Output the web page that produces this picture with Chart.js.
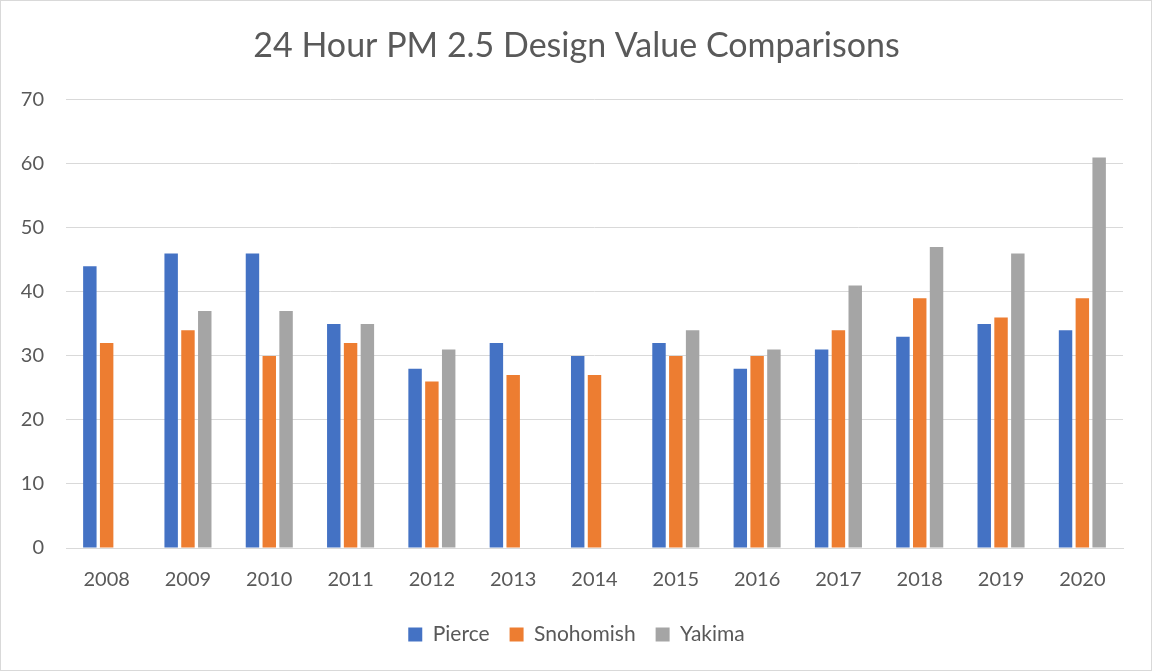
<!DOCTYPE html>
<html>
<head>
<meta charset="utf-8">
<script src="https://cdn.jsdelivr.net/npm/chart.js@4"></script>
<style>
    html, body { margin: 0; padding: 0; background: #fff; }
    #wrap { position: relative; width: 1150px; height: 669px; border: 1px solid #d9d9d9; }
</style>
</head>
<body>
<div id="wrap"><canvas id="chart1"></canvas></div>
<script>
"use strict";

// 年とデータ
const years = ["2008", "2009", "2010", "2011", "2012", "2013", "2014", "2015", "2016", "2017", "2018", "2019", "2020"];
const pierce = [44, 46, 46, 35, 28, 32, 30, 32, 28, 31, 33, 35, 34];
const snohomish = [32, 34, 30, 32, 26, 27, 27, 30, 30, 34, 39, 36, 39];
const yakima = [null, 37, 37, 35, 31, null, null, 34, 31, 41, 47, 46, 61];

const textColor = "#595959";
const gridColor = "#d9d9d9";
const fontFamily = "Lato, 'Open Sans', sans-serif";

const chartData = {
    labels: years,
    datasets: [
        { label: "Pierce", data: pierce, backgroundColor: "#4472c4" },
        { label: "Snohomish", data: snohomish, backgroundColor: "#ed7d31" },
        { label: "Yakima", data: yakima, backgroundColor: "#a5a5a5" },
    ],
};

const chartOptions = {
    responsive: true,
    maintainAspectRatio: false,
    animation: false,
    layout: { padding: { left: 17, right: 16, top: 25, bottom: 15 } },
    datasets: {
        bar: { categoryPercentage: 0.62, barPercentage: 0.8 },
    },
    plugins: {
        title: {
            display: true,
            text: "24 Hour PM 2.5 Design Value Comparisons",
            color: textColor,
            font: { family: fontFamily, size: 34, weight: "normal" },
            padding: { top: 0, bottom: 33 },
        },
        legend: {
            position: "bottom",
            labels: {
                color: textColor,
                font: { family: fontFamily, size: 21 },
                boxWidth: 14,
                boxHeight: 14,
                padding: 20,
            },
        },
        tooltip: { enabled: false },
    },
    scales: {
        x: {
            grid: { display: false },
            border: { color: gridColor },
            ticks: { color: textColor, font: { family: fontFamily, size: 20 }, padding: 12 },
        },
        y: {
            min: 0,
            max: 70,
            grid: { color: gridColor, drawTicks: false },
            border: { display: false },
            ticks: { stepSize: 10, color: textColor, font: { family: fontFamily, size: 20 }, padding: 22 },
            afterFit: (axis) => {
                // 軸の幅を固定する
                axis.width = 48;
            },
        },
        // 右側の余白用（表示なし）
        yRight: {
            position: "right",
            grid: { display: false },
            border: { display: false },
            ticks: { display: false },
            afterFit: (axis) => {
                axis.width = 12;
            },
        },
    },
};

const context = document.getElementById("chart1").getContext("2d");
new Chart(context, { type: "bar", data: chartData, options: chartOptions });
</script>
</body>
</html>
